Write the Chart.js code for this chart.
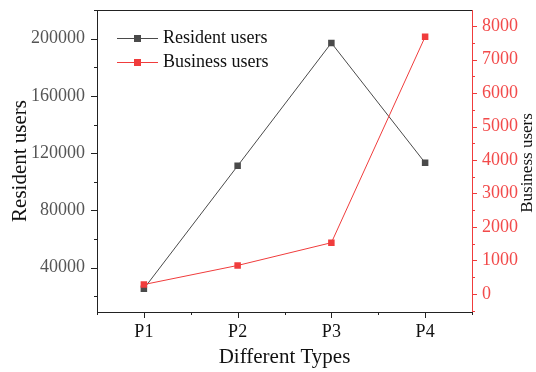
<!DOCTYPE html>
<html>
<head>
<meta charset="utf-8">
<script src="https://cdn.jsdelivr.net/npm/chart.js@4/dist/chart.umd.min.js"></script>
<style>
  html, body { margin: 0; padding: 0; background: #fff; }
  #wrap { width: 536px; height: 372px; }
</style>
</head>
<body>
<div id="wrap"><canvas id="c" width="536" height="372"></canvas></div>
<script>
// User counts per type
const categories = ['P1', 'P2', 'P3', 'P4'];
const residentUsers = [25300, 111100, 197000, 113200];
const businessUsers = [280, 850, 1530, 7680];

// Labelled axis ticks
const residentTicks = [40000, 80000, 120000, 160000, 200000];
const businessTicks = [0, 1000, 2000, 3000, 4000, 5000, 6000, 7000, 8000];

const SERIF = '"Liberation Serif", "Times New Roman", serif';
const DARK = '#4a4a4a';
const RED = '#f03c3c';

// Midpoints between labelled ticks (plus one step beyond each end) for minor ticks
function minorsOf(ticks) {
  const out = [];
  const step = ticks[1] - ticks[0];
  out.push(ticks[0] - step / 2);
  for (let i = 0; i < ticks.length; i++) out.push(ticks[i] + step / 2);
  return out;
}

const frameAndTicks = {
  id: 'frameAndTicks',
  afterDraw(chart) {
    const { ctx, chartArea: a, scales } = chart;
    const seg = (x1, y1, x2, y2) => { ctx.beginPath(); ctx.moveTo(x1, y1); ctx.lineTo(x2, y2); ctx.stroke(); };
    ctx.save();
    ctx.lineWidth = 1;

    // top frame edge
    ctx.strokeStyle = '#222';
    seg(a.left, a.top + 0.5, a.right, a.top + 0.5);

    // left axis ticks
    const yl = scales.y;
    residentTicks.forEach(v => { const y = Math.round(yl.getPixelForValue(v)) + 0.5; seg(a.left - 6, y, a.left, y); });
    minorsOf(residentTicks).forEach(v => {
      if (v < yl.min || v > yl.max) return;
      const y = Math.round(yl.getPixelForValue(v)) + 0.5; seg(a.left - 3, y, a.left, y);
    });

    // bottom axis ticks
    const xs = scales.x;
    categories.forEach((c, i) => { const x = Math.round(xs.getPixelForValue(i)) + 0.5; seg(x, a.bottom, x, a.bottom + 6); });
    for (let i = 0; i <= categories.length; i++) {
      const x = Math.round(xs.getPixelForValue(i - 0.5)) + 0.5; seg(x, a.bottom, x, a.bottom + 3);
    }

    // right axis ticks
    const yr = scales.y1;
    ctx.strokeStyle = RED;
    businessTicks.forEach(v => { const y = Math.round(yr.getPixelForValue(v)) + 0.5; seg(a.right, y, a.right + 5, y); });
    minorsOf(businessTicks).forEach(v => {
      if (v < yr.min || v > yr.max) return;
      const y = Math.round(yr.getPixelForValue(v)) + 0.5; seg(a.right, y, a.right + 3, y);
    });

    // right axis title, reading bottom to top
    ctx.fillStyle = '#111';
    ctx.font = '17px ' + SERIF;
    ctx.textAlign = 'center';
    ctx.textBaseline = 'middle';
    ctx.translate(528, (a.top + a.bottom) / 2 + 2);
    ctx.rotate(-Math.PI / 2);
    ctx.fillText('Business users', 0, 0);
    ctx.restore();

    // legend: line with square marker, then label
    ctx.save();
    chart.data.datasets.forEach((ds, i) => {
      const y = a.top + 28.5 + i * 24;
      const x0 = a.left + 20;
      ctx.strokeStyle = ds.borderColor;
      ctx.lineWidth = 1;
      seg(x0, y, x0 + 41, y);
      ctx.fillStyle = ds.pointBackgroundColor;
      ctx.fillRect(x0 + 20.5 - 3.5, y - 3.5, 7, 7);
      ctx.fillStyle = '#111';
      ctx.font = '18px ' + SERIF;
      ctx.textAlign = 'left';
      ctx.textBaseline = 'middle';
      ctx.fillText(ds.label, x0 + 46, y);
    });
    ctx.restore();
  }
};

const plain = v => String(v);
const noPad = s => { s.paddingTop = 0; s.paddingBottom = 0; s.paddingLeft = 0; s.paddingRight = 0; };

new Chart(document.getElementById('c'), {
  type: 'line',
  data: {
    labels: categories,
    datasets: [
      {
        label: 'Resident users',
        data: residentUsers,
        yAxisID: 'y',
        borderColor: DARK,
        borderWidth: 1,
        pointStyle: 'rect',
        pointRadius: 4.6,
        pointBackgroundColor: DARK,
        pointBorderColor: DARK,
        pointBorderWidth: 0,
        tension: 0,
        order: 1
      },
      {
        label: 'Business users',
        data: businessUsers,
        yAxisID: 'y1',
        borderColor: RED,
        borderWidth: 1,
        pointStyle: 'rect',
        pointRadius: 4.6,
        pointBackgroundColor: RED,
        pointBorderColor: RED,
        pointBorderWidth: 0,
        tension: 0,
        order: 0
      }
    ]
  },
  options: {
    responsive: false,
    animation: false,
    devicePixelRatio: 1,
    layout: { padding: { top: 10, left: 0, right: 0, bottom: 0 } },
    plugins: { legend: { display: false }, tooltip: { enabled: false } },
    scales: {
      x: {
        type: 'category',
        position: 'bottom',
        offset: true,
        grid: { drawOnChartArea: false, drawTicks: false },
        border: { color: '#222', width: 1 },
        ticks: { color: '#111', font: { family: SERIF, size: 18 }, padding: 9 },
        title: { display: true, text: 'Different Types', color: '#111', font: { family: SERIF, size: 21 }, padding: { top: 0, bottom: 2 } },
        afterFit(s) { s.height = 60; noPad(s); }
      },
      y: {
        type: 'linear',
        position: 'left',
        min: 9000,
        max: 220000,
        afterBuildTicks(s) { s.ticks = residentTicks.map(v => ({ value: v })); },
        grid: { drawOnChartArea: false, drawTicks: false },
        border: { color: '#222', width: 1 },
        ticks: { color: '#555', font: { family: SERIF, size: 18 }, padding: 12, callback: plain },
        title: { display: true, text: 'Resident users', color: '#111', font: { family: SERIF, size: 21 }, padding: { top: 8, bottom: 0 } },
        afterFit(s) { s.width = 97; noPad(s); }
      },
      y1: {
        type: 'linear',
        position: 'right',
        min: -540,
        max: 8480,
        afterBuildTicks(s) { s.ticks = businessTicks.map(v => ({ value: v })); },
        grid: { drawOnChartArea: false, drawTicks: false },
        border: { color: RED, width: 1 },
        ticks: { color: '#f24a4a', font: { family: SERIF, size: 18 }, padding: 10, callback: plain },
        title: { display: false },
        afterFit(s) { s.width = 64; noPad(s); }
      }
    }
  },
  plugins: [frameAndTicks]
});
</script>
</body>
</html>
